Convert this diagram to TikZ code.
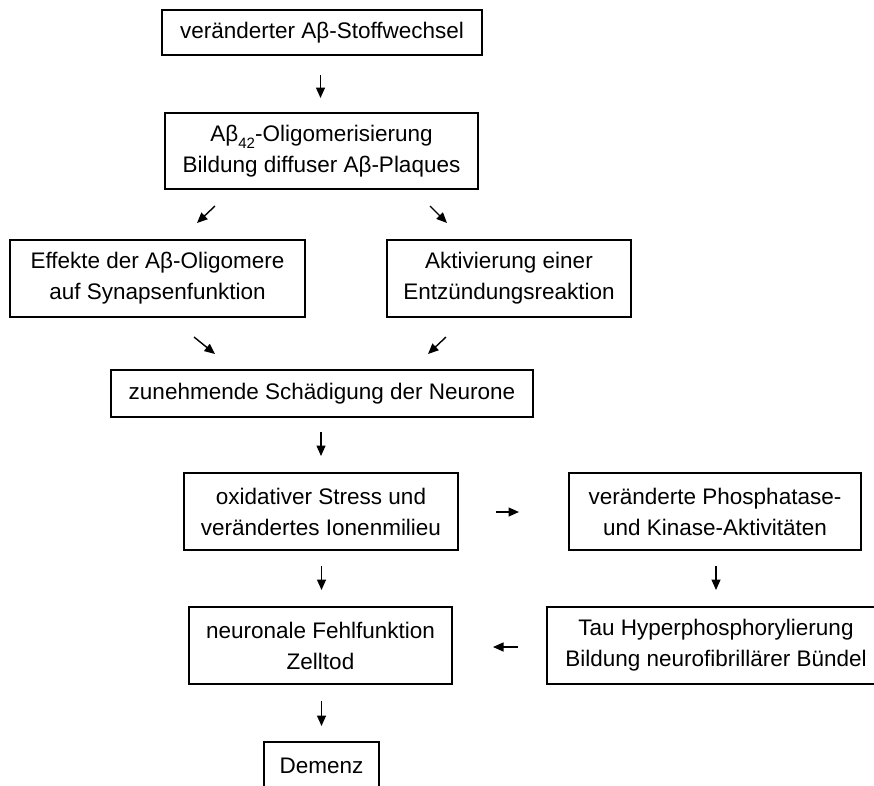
\documentclass[tikz,border=0pt]{standalone}
\usepackage{fontspec}
\setmainfont{Liberation Sans}
\usetikzlibrary{arrows.meta}
\tikzset{
  box/.style={draw=black, line width=1.8pt, align=center, inner sep=0pt,
    font=\fontsize{22.5}{31}\selectfont},
  arr/.style={line width=1.4pt, -{Triangle[length=10.5pt,width=9pt]}}
}
\newcommand{\ABsub}{Aβ\raisebox{-0.3em}{\fontsize{15}{15}\selectfont 42}}
\begin{document}
\begin{tikzpicture}[x=1pt,y=-1pt]
\useasboundingbox (0,0) rectangle (874,785);
\clip (0,0) rectangle (874,785);
\fill[white] (0,0) rectangle (874,785);
% boxes
\node[box, minimum width=320pt, minimum height=45pt] (b1) at (322,32.5) {veränderter Aβ-Stoffwechsel};
\node[box, minimum width=313pt, minimum height=76pt] (b2) at (321.5,151) {\ABsub-Oligomerisierung\\Bildung diffuser Aβ-Plaques};
\node[box, minimum width=295pt, minimum height=77pt] (b3l) at (157.5,278.5) {Effekte der Aβ-Oligomere\\auf Synapsenfunktion};
\node[box, minimum width=244pt, minimum height=77pt] (b3r) at (509,278.5) {Aktivierung einer\\Entzündungsreaktion};
\node[box, minimum width=422pt, minimum height=47pt] (b4) at (322,393.5) {zunehmende Schädigung der Neurone};
\node[box, minimum width=274pt, minimum height=77pt] (b5l) at (321,511.5) {oxidativer Stress und\\verändertes Ionenmilieu};
\node[box, minimum width=292pt, minimum height=77pt] (b5r) at (715,511.5) {veränderte Phosphatase-\\und Kinase-Aktivitäten};
\node[box, minimum width=263pt, minimum height=77pt] (b6l) at (320.5,645.5) {neuronale Fehlfunktion\\Zelltod};
\node[box, minimum width=338pt, minimum height=77pt] (b6r) at (716,645.5) {Tau Hyperphosphorylierung\\Bildung neurofibrillärer Bündel};
\node[box, minimum width=115pt, minimum height=47pt] (b7) at (321.5,765.5) {Demenz};
% arrow end points
\coordinate (a1s) at (320.5,75);  \coordinate (a1e) at (320.5,98);
\coordinate (a2s) at (215,206);   \coordinate (a2e) at (197,223);
\coordinate (a3s) at (430,206);   \coordinate (a3e) at (447,223);
\coordinate (a4s) at (194,337);   \coordinate (a4e) at (215,354);
\coordinate (a5s) at (446,337);   \coordinate (a5e) at (428,354);
\coordinate (a6s) at (321,432);   \coordinate (a6e) at (321,456);
\coordinate (a7s) at (496,512);   \coordinate (a7e) at (519,512);
\coordinate (a8s) at (321.5,566); \coordinate (a8e) at (321.5,590);
\coordinate (a9s) at (716,566);   \coordinate (a9e) at (716,590);
\coordinate (a10s) at (518,647);  \coordinate (a10e) at (493,647);
\coordinate (a11s) at (321.5,701);\coordinate (a11e) at (321.5,726);
\foreach \i in {1,...,11} \draw[arr] (a\i s) -- (a\i e);
\end{tikzpicture}
\end{document}
